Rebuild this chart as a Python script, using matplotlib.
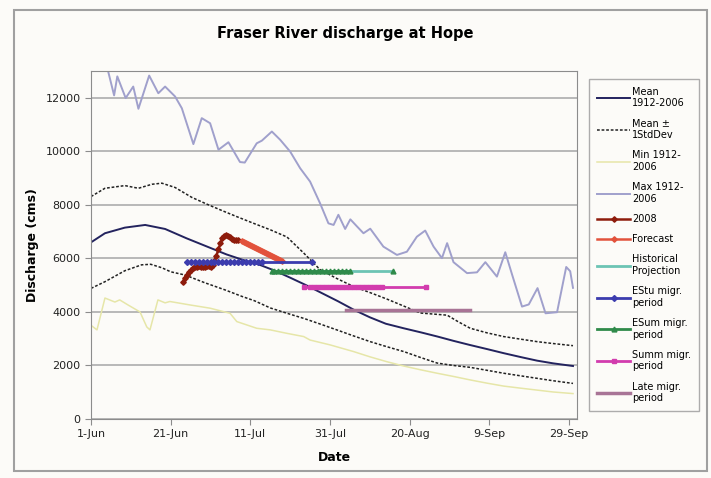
import numpy as np
import matplotlib
matplotlib.use('Agg')
import matplotlib.pyplot as plt

# days since 1-Jun
tick_days = [0, 20, 40, 60, 80, 100, 120]
tick_labels = ['1-Jun', '21-Jun', '11-Jul', '31-Jul', '20-Aug', '9-Sep', '29-Sep']

mean_days = [0, 3.5, 8.5, 13.6, 18.6, 24, 29, 34, 38, 42, 46, 50, 54, 58, 62, 66, 70,
             74, 78.5, 83, 87, 91, 95, 99.5, 103.6, 108, 112, 116, 121]
mean_vals = [6600, 6940, 7150, 7250, 7100, 6750, 6450, 6150, 5950, 5780, 5550, 5280, 5000,
             4700, 4400, 4080, 3800, 3560, 3390, 3230, 3080, 2920, 2770, 2610, 2460, 2310,
             2180, 2080, 1980]

up_days = [0, 3.5, 8.5, 11.9, 15.3, 17.8, 21.1, 25.3, 29.5, 33, 36.6, 41, 45, 49.2, 53.4,
           57.5, 61.7, 65.9, 70.1, 74.3, 78.5, 82.7, 86, 89.4, 92, 95.2, 99.4, 103.6, 108,
           112, 116, 121]
up_vals = [8310, 8620, 8720, 8620, 8770, 8810, 8650, 8280, 8000, 7780, 7560, 7300, 7070,
           6800, 6200, 5580, 5250, 4950, 4720, 4480, 4220, 3960, 3920, 3880, 3650, 3390,
           3220, 3080, 2980, 2890, 2820, 2740]

lo_days = [0, 3.5, 8.5, 12.7, 15, 17.8, 20, 23.6, 28.4, 33.7, 37.9, 41, 45, 49.2, 53.4,
           57.5, 61.7, 66, 70.1, 74.3, 78.5, 82.7, 86.9, 91, 95.2, 99.4, 103.6, 108, 112,
           116, 121]
lo_vals = [4880, 5130, 5540, 5760, 5780, 5650, 5500, 5380, 5100, 4820, 4580, 4420, 4150,
           3950, 3760, 3550, 3330, 3100, 2890, 2700, 2520, 2300, 2090, 2000, 1930, 1820,
           1710, 1610, 1520, 1430, 1330]

min_days = [0, 1.5, 3.5, 6, 7.2, 9.3, 12.3, 14, 14.8, 16.8, 18.6, 19.8, 24.9, 29.9, 34.9,
            36.6, 41.6, 45, 49.2, 53.4, 55, 60, 65.9, 70.1, 74.3, 78.5, 82.7, 86.9, 91,
            95.2, 99.4, 103.6, 108, 112, 116, 121]
min_vals = [3500, 3330, 4520, 4370, 4450, 4260, 4000, 3440, 3330, 4450, 4340, 4390, 4260,
            4140, 3950, 3640, 3390, 3330, 3200, 3080, 2950, 2770, 2520, 2320, 2140, 1980,
            1840, 1710, 1590, 1460, 1340, 1230, 1150, 1080, 1010, 950]

max_days = [2.5, 4.2, 5.8, 6.6, 8.7, 10.6, 11.9, 14.6, 16.9, 18.6, 21.1, 22.8, 25.7, 27.8,
            29.9, 32.0, 34.5, 37.4, 38.6, 41.6, 42.9, 45.4, 47.5, 50.0, 52.5, 55.0, 57.5,
            59.6, 60.9, 62.1, 63.8, 65.1, 66.8, 68.4, 70.1, 73.4, 76.8, 79.3, 81.8, 83.9,
            86.0, 88.1, 89.4, 91.0, 94.4, 96.9, 99.0, 101.9, 104.0, 105.7, 108.2, 109.9,
            112.1, 114.1, 117.0, 119.3, 120.3, 121.0]
max_vals = [13500, 13050, 12090, 12800, 11990, 12420, 11590, 12830, 12170, 12420, 12050,
            11610, 10270, 11240, 11050, 10060, 10340, 9600, 9580, 10300, 10400, 10740,
            10430, 9990, 9370, 8870, 8060, 7310, 7250, 7630, 7100, 7460, 7190, 6940, 7110,
            6440, 6130, 6250, 6810, 7040, 6440, 6010, 6570, 5860, 5450, 5480, 5860, 5320,
            6230, 5400, 4200, 4280, 4890, 3950, 3990, 5680, 5520, 4900]

days_2008 = [23, 23.5, 24, 24.5, 25, 25.5, 26, 26.5, 27, 27.5, 28, 28.5, 29, 29.5, 30, 30.5,
             31, 31.5, 32, 32.5, 33, 33.5, 34, 34.5, 35, 35.5, 36, 36.5, 37]
vals_2008 = [5100, 5250, 5380, 5480, 5560, 5640, 5680, 5690, 5700, 5690, 5680, 5690, 5700,
             5700, 5690, 5760, 5900, 6100, 6350, 6560, 6750, 6830, 6880, 6850, 6800, 6730,
             6680, 6690, 6700]

fc_days = [38, 38.5, 39, 39.5, 40, 40.5, 41, 41.5, 42, 42.5, 43, 43.5, 44, 44.5, 45, 45.5,
           46, 46.5, 47, 47.5, 48]
fc_vals = [6640, 6600, 6570, 6540, 6500, 6470, 6430, 6390, 6350, 6320, 6280, 6240, 6200,
           6160, 6120, 6090, 6050, 6010, 5980, 5950, 5920]

hist_days = [45.4, 75.9]
hist_vals = [5520, 5520]

estu_days = [24, 25, 26, 27, 28, 29, 30, 31, 32, 33, 34, 35, 36, 37, 38, 39, 40, 41, 42, 43, 55.5]
estu_val = 5880
esum_days = [45.4, 46, 47, 48, 49, 50, 51, 52, 53, 54, 55, 56, 57, 58, 59, 60, 61, 62, 63, 64, 65, np.nan, 75.9]
esum_val = 5520
summ_days = [53.5, 55, 56, 57, 58, 59, 60, 61, 62, 63, 64, 65, 66, 67, 68, 69, 70, 71, 72, 73, 84]
summ_val = 4950
late_days = [64, 80, 95.2]
late_val = 4080

bg = '#fcfbf8'
fig = plt.figure(figsize=(7.11, 4.78), dpi=100, facecolor=bg)
ax = fig.add_axes([0.128, 0.1234, 0.6835, 0.728], facecolor=bg)

ax.plot(mean_days, mean_vals, color='#23235e', lw=1.4, label='Mean\n1912-2006')
ax.plot(up_days, up_vals, color='#222222', lw=1.1, ls=(0, (1.8, 1.2)), label='Mean ±\n1StdDev')
ax.plot(min_days, min_vals, color='#e6e6a8', lw=1.1, label='Min 1912-\n2006')
ax.plot(max_days, max_vals, color='#a0a0cc', lw=1.4, label='Max 1912-\n2006')
ax.plot(lo_days, lo_vals, color='#222222', lw=1.1, ls=(0, (1.8, 1.2)))
ax.plot(days_2008, vals_2008, color='#8e1c0c', lw=1.8, marker='D', ms=2.8, label='2008')
ax.plot(fc_days, fc_vals, color='#e2523c', lw=1.8, marker='D', ms=2.8, label='Forecast')
ax.plot(hist_days, hist_vals, color='#6cc4b4', lw=2, label='Historical\nProjection')
ax.plot(estu_days, [estu_val] * len(estu_days), color='#3c3cae', lw=2, marker='D', ms=3,
        label='EStu migr.\nperiod')
ax.plot(esum_days, [esum_val] * len(esum_days), color='#2f8a4a', lw=2, marker='^', ms=3.5,
        label='ESum migr.\nperiod')
ax.plot(summ_days, [summ_val] * len(summ_days), color='#d23cae', lw=2, marker='s', ms=2.8,
        label='Summ migr.\nperiod')
ax.plot(late_days, [late_val] * len(late_days), color='#a87496', lw=2.5, label='Late migr.\nperiod')

ax.set_xlim(0, 122)
ax.set_ylim(0, 13000)
ax.set_xticks(tick_days)
ax.set_xticklabels(tick_labels)
ax.set_yticks(range(0, 13000, 2000))
ax.yaxis.grid(True, color='#b8b8b8', lw=1.4)
ax.set_axisbelow(True)
for s in ax.spines.values():
    s.set_color('#8c8c8c')
ax.tick_params(axis='both', colors='#8c8c8c', labelcolor='#222222', labelsize=8, length=4)

ax.set_xlabel('Date', fontsize=9, fontweight='bold', labelpad=8)
ax.set_ylabel('Discharge (cms)', fontsize=9, fontweight='bold', labelpad=5)
fig.text(0.485, 0.93, 'Fraser River discharge at Hope', ha='center', va='center',
         fontsize=10.5, fontweight='bold')

leg = fig.legend(loc='upper left', bbox_to_anchor=(0.822, 0.845), fontsize=7,
                 frameon=True, fancybox=False, edgecolor='#999999', facecolor=bg,
                 handlelength=3.4, labelspacing=1.05, borderpad=0.8, handletextpad=0.2)
leg.get_frame().set_linewidth(1)

# outer frame of the chart area
fig.patches.append(plt.Rectangle((0.019, 0.015), 0.975, 0.965, transform=fig.transFigure,
                                 fill=False, edgecolor='#a0a0a0', lw=1.5))

fig.savefig('out.png', dpi=100, facecolor=bg)
